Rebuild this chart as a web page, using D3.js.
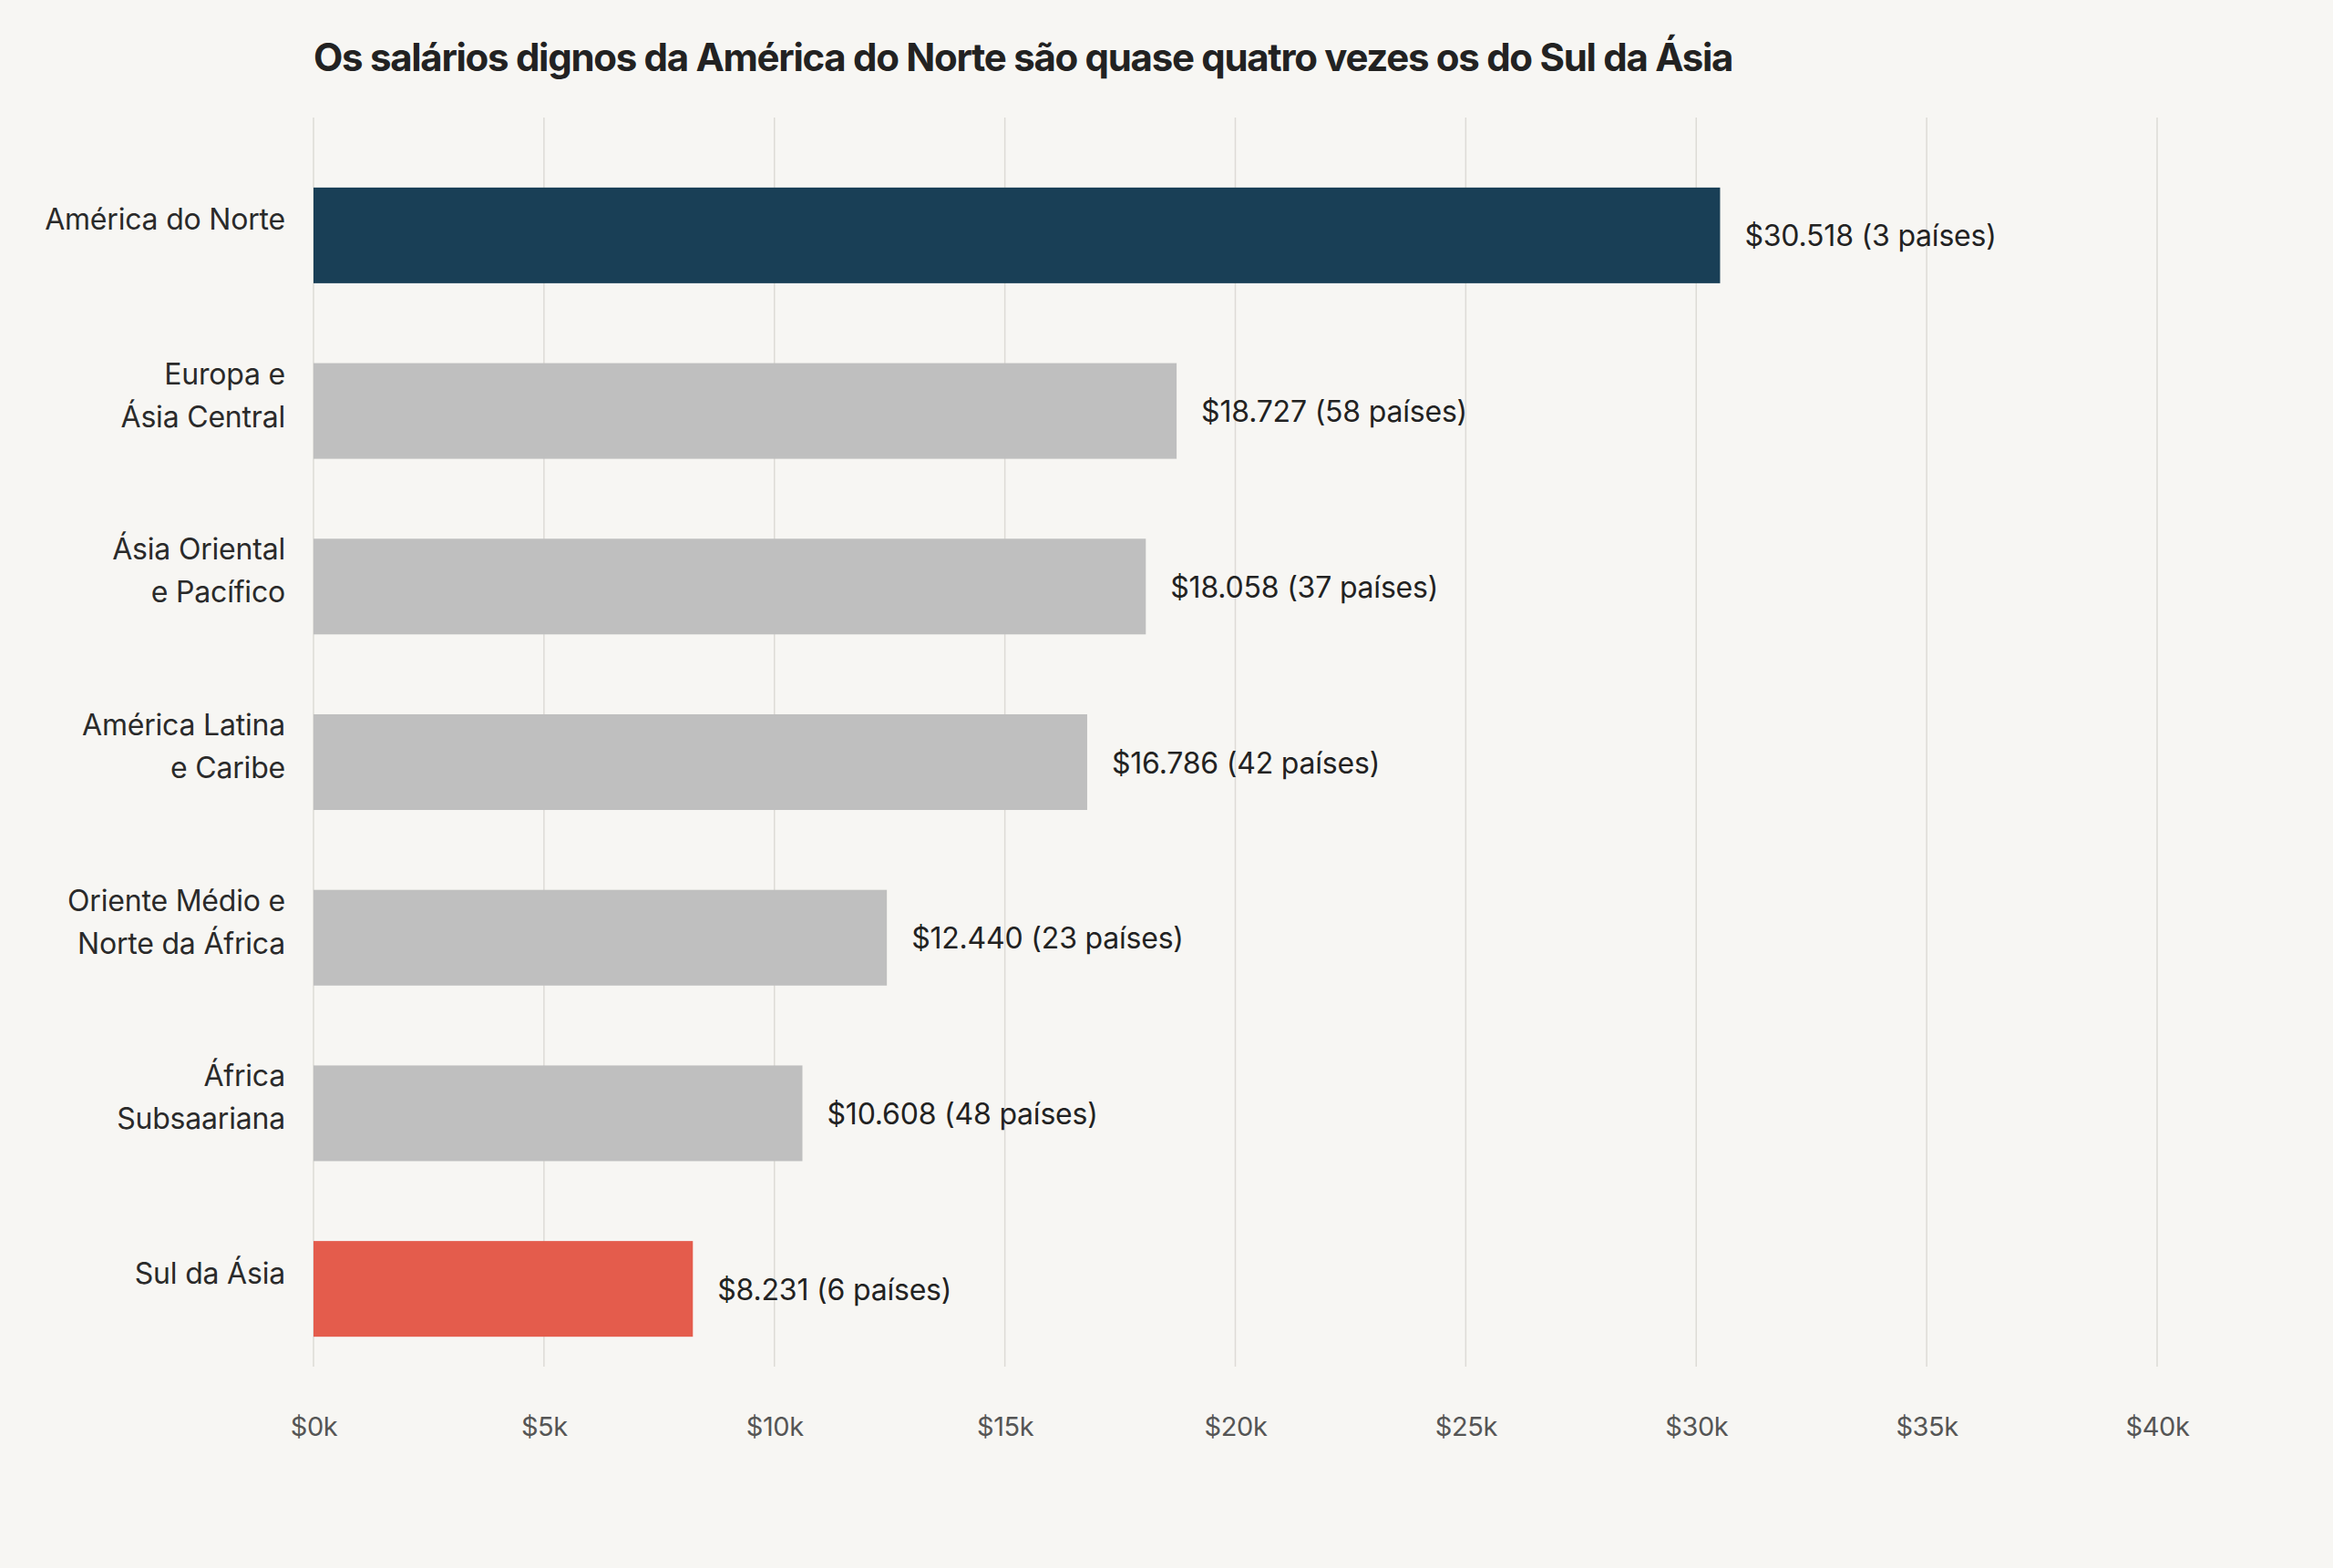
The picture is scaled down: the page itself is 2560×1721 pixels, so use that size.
<!DOCTYPE html>
<html>
<head>
<meta charset="utf-8">
<script src="https://cdn.jsdelivr.net/npm/d3@7"></script>
<style>
  html, body { margin: 0; padding: 0; background: #f7f6f3; }
  svg { display: block; }
</style>
</head>
<body>
<div id="chart"></div>
<script>
// regions, top to bottom
var regions = [
  ["América do Norte"],
  ["Europa e", "Ásia Central"],
  ["Ásia Oriental", "e Pacífico"],
  ["América Latina", "e Caribe"],
  ["Oriente Médio e", "Norte da África"],
  ["África", "Subsaariana"],
  ["Sul da Ásia"]
];
// yearly living wage in USD
var wages = [30518, 18727, 18058, 16786, 12440, 10608, 8231];
var countries = [3, 58, 37, 42, 23, 48, 6];
var xTicks = [0, 5000, 10000, 15000, 20000, 25000, 30000, 35000, 40000];
var title = "Os salários dignos da América do Norte são quase quatro vezes os do Sul da Ásia";

var W = 2560, H = 1721;
var margin = { top: 129, right: 193, bottom: 221, left: 344 };
var width = W - margin.left - margin.right,
    height = H - margin.top - margin.bottom;

var fmt = d3.formatLocale({ decimal: ",", thousands: ".", grouping: [3], currency: ["$", ""] }).format("$,d");

var data = wages.map(function(v, i){
  return { id: i, lines: regions[i], value: v, n: countries[i] };
});

var svg = d3.select("#chart")
  .append("svg")
  .attr("width", W)
  .attr("height", H);

svg.append("rect")
  .attr("width", W)
  .attr("height", H)
  .attr("fill", "#f7f6f3");

var g = svg.append("g")
  .attr("transform", "translate(" + margin.left + "," + margin.top + ")");

var x = d3.scaleLinear()
  .domain([0, 40000])
  .range([0, width]);

var y = d3.scaleBand()
  .domain(data.map(function(d){ return d.id; }))
  .range([33, 1382])
  .paddingInner(0.455)
  .paddingOuter(0.2275);

// gridlines
g.append("g")
  .selectAll("line")
  .data(xTicks)
  .join("line")
  .attr("x1", function(d){ return x(d); })
  .attr("x2", function(d){ return x(d); })
  .attr("y1", 0)
  .attr("y2", height)
  .attr("stroke", "#dddbd6")
  .attr("stroke-width", 1.5);

// x axis labels
var xAxis = g.append("g")
  .attr("transform", "translate(0," + height + ")")
  .call(d3.axisBottom(x).tickValues(xTicks).tickSize(0).tickPadding(0)
    .tickFormat(function(d){ return "$" + (d / 1000) + "k"; }));
xAxis.select(".domain").remove();
xAxis.selectAll("text")
  .attr("y", 76)
  .attr("dy", null)
  .attr("fill", "#555")
  .style("font-family", "Inter, 'Noto Sans', sans-serif")
  .style("font-size", "29px")
  .style("letter-spacing", "-0.4px");

function barColor(d){
  if (d.id === 0) return "#193f56";
  if (d.id === data.length - 1) return "#e45c4c";
  return "#bfbfbf";
}

// bars
g.selectAll("rect.bar")
  .data(data)
  .join("rect")
  .attr("class", "bar")
  .attr("x", x(0))
  .attr("y", function(d){ return y(d.id); })
  .attr("width", function(d){ return x(d.value) - x(0); })
  .attr("height", y.bandwidth())
  .attr("fill", barColor);

// value labels
g.selectAll("text.val")
  .data(data)
  .join("text")
  .attr("class", "val")
  .attr("x", function(d){ return x(d.value) + 27; })
  .attr("y", function(d){ return y(d.id) + y.bandwidth() / 2 + 12; })
  .attr("fill", "#222")
  .style("font-family", "Inter, 'Noto Sans', sans-serif")
  .style("font-size", "32px")
  .style("letter-spacing", "-0.2px")
  .text(function(d){ return fmt(d.value) + " (" + d.n + " países)"; });

// category labels
var cat = g.selectAll("text.cat")
  .data(data)
  .join("text")
  .attr("class", "cat")
  .attr("text-anchor", "end")
  .attr("fill", "#2a2a2a")
  .style("font-family", "Inter, 'Noto Sans', sans-serif")
  .style("font-size", "32px")
  .style("letter-spacing", "-0.2px");

cat.each(function(d){
  var c = y(d.id) + y.bandwidth() / 2 - 6;
  var n = d.lines.length;
  d3.select(this).selectAll("tspan")
    .data(d.lines)
    .join("tspan")
    .attr("x", -31)
    .attr("y", function(l, i){ return c + (i - (n - 1) / 2) * 47; })
    .text(function(l){ return l; });
});

// title
svg.append("text")
  .attr("x", margin.left)
  .attr("y", 78)
  .attr("fill", "#222")
  .style("font-family", "Inter, 'Noto Sans', sans-serif")
  .style("font-weight", "700")
  .style("font-size", "42px")
  .style("letter-spacing", "-1.3px")
  .text(title);
</script>
</body>
</html>
